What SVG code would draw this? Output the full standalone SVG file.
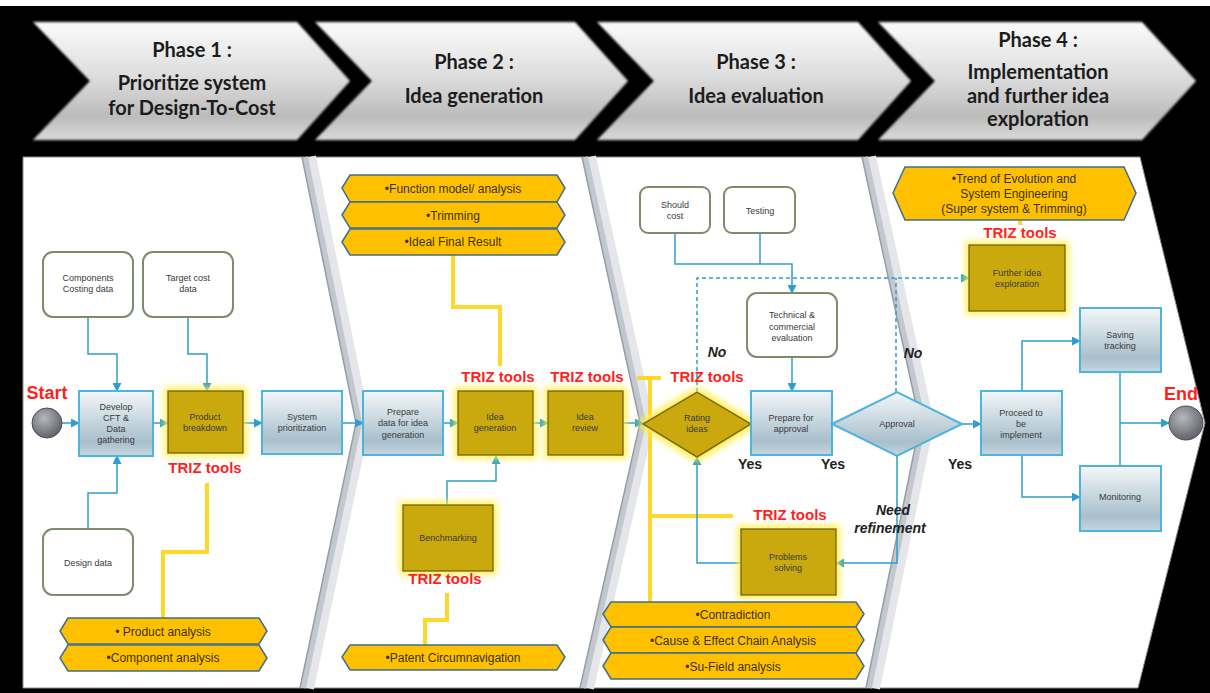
<svg xmlns="http://www.w3.org/2000/svg" width="1210" height="693" viewBox="0 0 1210 693">
<defs>
  <linearGradient id="chev" x1="0" y1="0" x2="0" y2="1">
    <stop offset="0" stop-color="#fbfbfb"/>
    <stop offset="0.45" stop-color="#dedede"/>
    <stop offset="0.8" stop-color="#bcbcbc"/>
    <stop offset="1" stop-color="#dadada"/>
  </linearGradient>
  <linearGradient id="blue" x1="0" y1="0" x2="0" y2="1">
    <stop offset="0" stop-color="#f3f7f9"/>
    <stop offset="0.78" stop-color="#a8bfcc"/>
    <stop offset="1" stop-color="#c6d6de"/>
  </linearGradient>
  <radialGradient id="ball" cx="0.4" cy="0.35" r="0.7">
    <stop offset="0" stop-color="#b6b8be"/>
    <stop offset="1" stop-color="#5c5e66"/>
  </radialGradient>
  <filter id="glow" x="-30%" y="-30%" width="160%" height="160%">
    <feMorphology in="SourceAlpha" operator="dilate" radius="3" result="d"/>
    <feGaussianBlur in="d" stdDeviation="3" result="b"/>
    <feFlood flood-color="#ffee40" flood-opacity="0.85"/>
    <feComposite in2="b" operator="in" result="g"/>
    <feMerge><feMergeNode in="g"/><feMergeNode in="SourceGraphic"/></feMerge>
  </filter>
  <filter id="soft" x="-5%" y="-10%" width="110%" height="120%">
    <feGaussianBlur stdDeviation="0.8"/>
  </filter>
  <marker id="arr" viewBox="0 0 10 10" refX="9" refY="5" markerWidth="9" markerHeight="9" markerUnits="userSpaceOnUse" orient="auto">
    <path d="M0,0 L10,5 L0,10 z" fill="#2e9fcc"/>
  </marker>
</defs>
<style>
  .bx{fill:url(#blue);stroke:#4db4dc;stroke-width:2}
  .gd{fill:#c9a90c;stroke:#7d6a08;stroke-width:1.5}
  .rd{fill:#ffffff;stroke:#7c8c6c;stroke-width:2}
  .hx{fill:#ffc000;stroke:#3f6f88;stroke-width:1.5}
  .chev{fill:url(#chev);stroke:#6a6a6a;stroke-width:1}
  .t{font-family:"Liberation Sans",Arial,sans-serif;font-size:9px;fill:#3a3a3a;text-anchor:middle}
  .ht{font-family:"Liberation Sans",Arial,sans-serif;font-size:12px;fill:#3b3208;text-anchor:middle}
  .triz{font-family:"Liberation Sans",Arial,sans-serif;font-weight:bold;font-size:15px;fill:#ff1f1f;text-anchor:middle}
  .big{font-family:"Liberation Sans",Arial,sans-serif;font-weight:bold;font-size:18px;fill:#ff1f1f;text-anchor:middle}
  .yn{font-family:"Liberation Sans",Arial,sans-serif;font-weight:bold;font-size:14px;fill:#222222;text-anchor:middle}
  .it{font-style:italic}
  .ph{font-family:Lato,"Open Sans",sans-serif;font-weight:bold;font-size:20px;fill:#1c1c1c;text-anchor:middle}
  .cn{fill:none;stroke:#2e9fcc;stroke-width:1.5}
  .dash{stroke-dasharray:4,3}
  .yl{fill:none;stroke:#ffd72a;stroke-width:4}
  .dv1{fill:none;stroke:#e4e6ea;stroke-width:14}
  .dv2{fill:none;stroke:#c3c7ce;stroke-width:6}
  .dv3{fill:none;stroke:#979ea8;stroke-width:1.5}
</style>

<rect x="0" y="0" width="1210" height="693" fill="#000000"/>
<rect x="0" y="0" width="1210" height="6" fill="#ffffff"/>

<g id="header">
  <g id="phase1">
    <polygon class="chev" filter="url(#soft)" points="33,22 297,22 350,81 297,140 33,140 90,81"/>
    <text class="ph" x="192" y="57">Phase 1 :</text>
    <text class="ph" x="192" y="90">Prioritize system</text>
    <text class="ph" x="192" y="115">for Design-To-Cost</text>
  </g>
  <g id="phase2">
    <polygon class="chev" filter="url(#soft)" points="315,22 575,22 628,81 575,140 315,140 372,81"/>
    <text class="ph" x="474" y="69">Phase 2 :</text>
    <text class="ph" x="474" y="103">Idea generation</text>
  </g>
  <g id="phase3">
    <polygon class="chev" filter="url(#soft)" points="597,22 858,22 911,81 858,140 597,140 654,81"/>
    <text class="ph" x="756" y="69">Phase 3 :</text>
    <text class="ph" x="756" y="103">Idea evaluation</text>
  </g>
  <g id="phase4">
    <polygon class="chev" filter="url(#soft)" points="878,22 1142,22 1196,81 1142,140 878,140 935,81"/>
    <text class="ph" x="1038" y="47">Phase 4 :</text>
    <text class="ph" x="1038" y="79">Implementation</text>
    <text class="ph" x="1038" y="103">and further idea</text>
    <text class="ph" x="1038" y="126">exploration</text>
  </g>
</g>

<g id="panel">
  <polygon points="23,157 1140,157 1205,423 1138,688 23,688" fill="#ffffff" stroke="#8a8a8a" stroke-width="1"/>
  <polyline class="dv1" points="309,157 363,423 307,688"/>
  <polyline class="dv2" points="305,157 359,423 303,688"/>
  <polyline class="dv3" points="302,157 356,423 300,688"/>
  <polyline class="dv1" points="589,157 647,423 587,688"/>
  <polyline class="dv2" points="585,157 643,423 583,688"/>
  <polyline class="dv3" points="582,157 640,423 580,688"/>
  <polyline class="dv1" points="869,157 927,423 873,688"/>
  <polyline class="dv2" points="865,157 923,423 869,688"/>
  <polyline class="dv3" points="862,157 920,423 866,688"/>
</g>

<g id="tool-links">
  <path class="yl" d="M207,483 V552 H163 V618"/>
  <path class="yl" d="M453,255 V307 H500 V366"/>
  <path class="yl" d="M447,593 V620 H425 V645"/>
  <path class="yl" d="M637,378 H661 M650,378 V602 M650,516 H733"/>
  <path class="yl" d="M1020,220 V225"/>
</g>

<g id="connectors">
  <path class="cn" marker-end="url(#arr)" d="M62,423 H79"/>
  <path class="cn" marker-end="url(#arr)" d="M153,423 H168"/>
  <path class="cn" marker-end="url(#arr)" d="M243,423 H262"/>
  <path class="cn" marker-end="url(#arr)" d="M342,423 H363"/>
  <path class="cn" marker-end="url(#arr)" d="M88,317 V354 H117 V391"/>
  <path class="cn" marker-end="url(#arr)" d="M188,317 V354 H207 V391"/>
  <path class="cn" marker-end="url(#arr)" d="M88,529 V493 H117 V456"/>
  <path class="cn" marker-end="url(#arr)" d="M443,423 H458"/>
  <path class="cn" marker-end="url(#arr)" d="M533,423 H548"/>
  <path class="cn" marker-end="url(#arr)" d="M623,423 H643"/>
  <path class="cn" marker-end="url(#arr)" d="M447,505 V481 H496 V456"/>
  <path class="cn" marker-end="url(#arr)" d="M675,233 V264 H792 V293"/>
  <path class="cn" d="M760,233 V264"/>
  <path class="cn" marker-end="url(#arr)" d="M792,357 V391"/>
  <path class="cn dash" marker-end="url(#arr)" d="M697,392 V278 H969"/>
  <path class="cn dash" d="M896,392 V278"/>
  <path class="cn" marker-end="url(#arr)" d="M741,563 H697 V457"/>
  <path class="cn" marker-end="url(#arr)" d="M897,456 V563 H836"/>
  <path class="cn" marker-end="url(#arr)" d="M962,424 H981"/>
  <path class="cn" marker-end="url(#arr)" d="M1022,391 V341 H1080"/>
  <path class="cn" marker-end="url(#arr)" d="M1022,455 V497 H1080"/>
  <path class="cn" d="M1120,372 V466"/>
  <path class="cn" marker-end="url(#arr)" d="M1120,423 H1169"/>
</g>

<g id="labels">
  <text class="yn it" x="717" y="357">No</text>
  <text class="yn it" x="913" y="358">No</text>
  <text class="yn" x="750" y="469">Yes</text>
  <text class="yn" x="833" y="469">Yes</text>
  <text class="yn" x="960" y="469">Yes</text>
  <text class="yn it" x="893" y="515">Need</text>
  <text class="yn it" x="890" y="533">refinement</text>
</g>

<!-- Phase 1 nodes -->
<g id="start">
  <circle cx="47" cy="423" r="15" fill="url(#ball)" stroke="#4a4c52" stroke-width="1"/>
  <text class="big" x="47" y="399">Start</text>
</g>
<g id="develop">
  <rect class="bx" x="79" y="391" width="74" height="65"/>
  <text class="t" x="116" y="410">Develop</text>
  <text class="t" x="116" y="421">CFT &amp;</text>
  <text class="t" x="116" y="432">Data</text>
  <text class="t" x="116" y="443">gathering</text>
</g>
<g id="product-breakdown">
  <rect class="gd" filter="url(#glow)" x="168" y="391" width="75" height="62"/>
  <text class="t" x="205" y="420">Product</text>
  <text class="t" x="205" y="431">breakdown</text>
</g>
<g id="system-prioritization">
  <rect class="bx" x="262" y="391" width="80" height="63"/>
  <text class="t" x="302" y="420">System</text>
  <text class="t" x="302" y="431">prioritization</text>
</g>
<g id="components-costing">
  <rect class="rd" x="43" y="252" width="90" height="65" rx="10"/>
  <text class="t" x="88" y="281">Components</text>
  <text class="t" x="88" y="292">Costing data</text>
</g>
<g id="target-cost">
  <rect class="rd" x="143" y="252" width="90" height="65" rx="10"/>
  <text class="t" x="188" y="281">Target cost</text>
  <text class="t" x="188" y="292">data</text>
</g>
<g id="design-data">
  <rect class="rd" x="43" y="529" width="90" height="66" rx="10"/>
  <text class="t" x="88" y="566">Design data</text>
</g>
<g id="triz1">
  <text class="triz" x="205" y="473">TRIZ tools</text>
</g>
<g id="tools1">
  <polygon class="hx" points="60,631 68,618 259,618 267,631 259,644 68,644"/>
  <text class="ht" x="163" y="636">• Product analysis</text>
  <polygon class="hx" points="60,658 68,645 259,645 267,658 259,671 68,671"/>
  <text class="ht" x="163" y="662">•Component analysis</text>
</g>

<!-- Phase 2 nodes -->
<g id="tools2">
  <polygon class="hx" points="342,188 350,175 557,175 565,188 557,202 350,202"/>
  <text class="ht" x="453" y="193">•Function model/ analysis</text>
  <polygon class="hx" points="342,215 350,202 557,202 565,215 557,228 350,228"/>
  <text class="ht" x="453" y="220">•Trimming</text>
  <polygon class="hx" points="342,242 350,229 557,229 565,242 557,255 350,255"/>
  <text class="ht" x="453" y="246">•Ideal Final Result</text>
</g>
<g id="triz2">
  <text class="triz" x="498" y="382">TRIZ tools</text>
  <text class="triz" x="587" y="382">TRIZ tools</text>
</g>
<g id="prepare-data">
  <rect class="bx" x="363" y="391" width="80" height="64"/>
  <text class="t" x="403" y="415">Prepare</text>
  <text class="t" x="403" y="426">data for idea</text>
  <text class="t" x="403" y="438">generation</text>
</g>
<g id="idea-generation">
  <rect class="gd" filter="url(#glow)" x="458" y="391" width="75" height="64"/>
  <text class="t" x="495" y="420">Idea</text>
  <text class="t" x="495" y="431">generation</text>
</g>
<g id="idea-review">
  <rect class="gd" filter="url(#glow)" x="548" y="391" width="75" height="64"/>
  <text class="t" x="585" y="420">Idea</text>
  <text class="t" x="585" y="431">review</text>
</g>
<g id="benchmarking">
  <rect class="gd" filter="url(#glow)" x="403" y="505" width="90" height="66"/>
  <text class="t" x="448" y="541">Benchmarking</text>
</g>
<g id="triz3">
  <text class="triz" x="445" y="584">TRIZ tools</text>
</g>
<g id="tools3">
  <polygon class="hx" points="342,657 350,645 557,645 565,657 557,670 350,670"/>
  <text class="ht" x="453" y="662">•Patent Circumnavigation</text>
</g>

<!-- Phase 3 nodes -->
<g id="should-cost">
  <rect class="rd" x="640" y="187" width="70" height="46" rx="8"/>
  <text class="t" x="675" y="208">Should</text>
  <text class="t" x="675" y="219">cost</text>
</g>
<g id="testing">
  <rect class="rd" x="724" y="187" width="71" height="46" rx="8"/>
  <text class="t" x="760" y="214">Testing</text>
</g>
<g id="tech-eval">
  <rect class="rd" x="747" y="293" width="90" height="64" rx="10"/>
  <text class="t" x="792" y="318">Technical &amp;</text>
  <text class="t" x="792" y="330">commercial</text>
  <text class="t" x="792" y="341">evaluation</text>
</g>
<g id="rating-ideas">
  <polygon class="gd" filter="url(#glow)" points="643,424 697,392 751,424 697,457"/>
  <text class="t" x="697" y="421">Rating</text>
  <text class="t" x="697" y="432">ideas</text>
</g>
<g id="triz4">
  <text class="triz" x="707" y="382">TRIZ tools</text>
</g>
<g id="prepare-approval">
  <rect class="bx" x="751" y="391" width="81" height="64"/>
  <text class="t" x="791" y="421">Prepare for</text>
  <text class="t" x="791" y="432">approval</text>
</g>
<g id="approval">
  <polygon class="bx" points="832,424 897,392 962,424 897,456"/>
  <text class="t" x="897" y="427">Approval</text>
</g>
<g id="triz5">
  <text class="triz" x="790" y="520">TRIZ tools</text>
</g>
<g id="problems-solving">
  <rect class="gd" filter="url(#glow)" x="741" y="529" width="95" height="66"/>
  <text class="t" x="788" y="560">Problems</text>
  <text class="t" x="788" y="571">solving</text>
</g>
<g id="tools4">
  <polygon class="hx" points="603,614 611,602 856,602 864,614 856,627 611,627"/>
  <text class="ht" x="733" y="619">•Contradiction</text>
  <polygon class="hx" points="603,640 611,627 856,627 864,640 856,653 611,653"/>
  <text class="ht" x="733" y="645">•Cause &amp; Effect Chain Analysis</text>
  <polygon class="hx" points="603,666 611,653 856,653 864,666 856,679 611,679"/>
  <text class="ht" x="733" y="671">•Su-Field analysis</text>
</g>

<!-- Phase 4 nodes -->
<g id="tools5">
  <polygon class="hx" points="893,193 905,167 1124,167 1136,193 1124,220 905,220"/>
  <text class="ht" x="1014" y="183">•Trend of Evolution and</text>
  <text class="ht" x="1014" y="198">System Engineering</text>
  <text class="ht" x="1014" y="213">(Super system  &amp; Trimming)</text>
</g>
<g id="triz6">
  <text class="triz" x="1020" y="238">TRIZ tools</text>
</g>
<g id="further-idea">
  <rect class="gd" filter="url(#glow)" x="969" y="245" width="96" height="66"/>
  <text class="t" x="1017" y="276">Further idea</text>
  <text class="t" x="1017" y="287">exploration</text>
</g>
<g id="saving-tracking">
  <rect class="bx" x="1080" y="308" width="81" height="64"/>
  <text class="t" x="1120" y="338">Saving</text>
  <text class="t" x="1120" y="349">tracking</text>
</g>
<g id="proceed">
  <rect class="bx" x="981" y="391" width="81" height="64"/>
  <text class="t" x="1021" y="416">Proceed to</text>
  <text class="t" x="1021" y="427">be</text>
  <text class="t" x="1021" y="438">implement</text>
</g>
<g id="monitoring">
  <rect class="bx" x="1080" y="466" width="81" height="65"/>
  <text class="t" x="1120" y="500">Monitoring</text>
</g>
<g id="end">
  <circle cx="1186" cy="423" r="17" fill="url(#ball)" stroke="#4a4c52" stroke-width="1"/>
  <text class="big" x="1181" y="400">End</text>
</g>
</svg>
